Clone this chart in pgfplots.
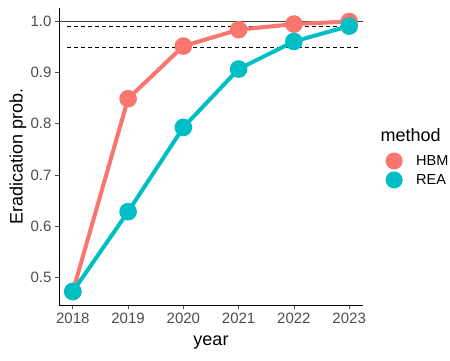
\documentclass[border=0pt]{standalone}
\usepackage{pgfplots}
\pgfplotsset{compat=1.18}
\usepackage{fontspec}
\setmainfont{Liberation Sans}
\definecolor{hbm}{HTML}{F8766D}
\definecolor{rea}{HTML}{00BFC4}
\definecolor{tickgray}{HTML}{4D4D4D}
\begin{document}
\begin{tikzpicture}[x=1pt,y=1pt]
\path[use as bounding box] (0,0) rectangle (450,360);
\begin{axis}[
  at={(59pt,55pt)}, anchor=south west,
  scale only axis, width=304pt, height=297pt,
  xmin=2017.75, xmax=2023.25, ymin=0.4456, ymax=1.0264,
  axis lines*=left,
  axis line style={black, line width=0.9pt},
  xtick={2018,2019,2020,2021,2022,2023},
  ytick={0.5,0.6,0.7,0.8,0.9,1.0},
  xticklabel style={/pgf/number format/1000 sep={}},
  yticklabel style={/pgf/number format/fixed, /pgf/number format/precision=1, /pgf/number format/fixed zerofill},
  /pgf/number format/assume math mode=true,
  tick style={tickgray, line width=0.8pt},
  tick align=outside, major tick length=4pt,
  ticklabel style={font=\fontsize{15}{17}\selectfont, text=tickgray},
  xlabel={year}, ylabel={Eradication prob.},
  label style={font=\fontsize{18}{21}\selectfont},
  xlabel style={at={(axis description cs:0.5,-0.138)}, anchor=base},
  ylabel style={at={(axis description cs:-0.135,0.5)}, anchor=center},
  legend style={at={(rel axis cs:1.064,0.453)}, anchor=west, draw=none, fill=none,
    font=\fontsize{14.5}{17}\selectfont, row sep=2pt,
    /tikz/every odd column/.append style={column sep=11.5pt}},
  legend cell align=left,
  legend image code/.code={\draw[line width=3.5pt] (0pt,0pt)--(13pt,0pt); \fill (6.5pt,0pt) circle (6.5pt);},
  clip=false,
]
\addplot[forget plot, color=black!75, line width=0.8pt] coordinates {(2017.75,1.0) (2023.25,1.0)};
\addplot[forget plot, black, line width=0.8pt, dash pattern=on 4pt off 3pt] coordinates {(2017.9,0.99) (2023.2,0.99)};
\addplot[forget plot, black, line width=0.8pt, dash pattern=on 4pt off 3pt] coordinates {(2017.9,0.95) (2023.2,0.95)};
\addplot[hbm, line width=4pt, line join=round, mark=*, mark size=6.8pt, mark options={solid}] coordinates {
(2018,0.472) (2019,0.849) (2020,0.952) (2021,0.984) (2022,0.995) (2023,1.0)};
\addlegendentry{HBM}
\addplot[rea, line width=4pt, line join=round, mark=*, mark size=6.8pt, mark options={solid}] coordinates {
(2018,0.472) (2019,0.628) (2020,0.793) (2021,0.907) (2022,0.961) (2023,0.991)};
\addlegendentry{REA}
\end{axis}
\node[anchor=base west, font=\fontsize{18}{21}\selectfont] at (377,219) {method};
\end{tikzpicture}
\end{document}
